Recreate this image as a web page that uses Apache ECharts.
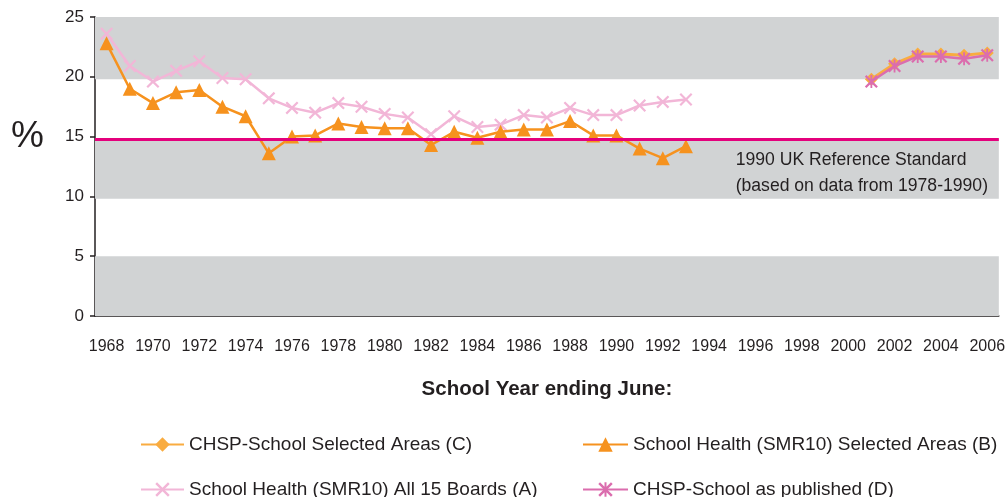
<!DOCTYPE html>
<html>
<head>
<meta charset="utf-8">
<script src="https://cdn.jsdelivr.net/npm/echarts@6/dist/echarts.min.js"></script>
<style>
  html, body { margin: 0; padding: 0; background: #fff; }
  #chart { width: 1008px; height: 497px; }
</style>
</head>
<body>
<div id="chart"></div>
<script>
// years on the x axis
const years = [];
for (let y = 1968; y <= 2006; y++) years.push(String(y));

// School Health (SMR10) All 15 Boards (A), 1968-1993
const allBoardsA = [23.6, 20.9, 19.6, 20.5, 21.3, 19.9, 19.8, 18.2, 17.4, 17.0, 17.8, 17.5, 16.9,
  16.6, 15.2, 16.7, 15.8, 16.0, 16.8, 16.6, 17.4, 16.8, 16.8, 17.6, 17.9, 18.1];
// School Health (SMR10) Selected Areas (B), 1968-1993
const selectedB = [22.8, 19.0, 17.8, 18.7, 18.9, 17.5, 16.7, 13.6, 15.0, 15.1, 16.1, 15.8, 15.7,
  15.7, 14.3, 15.4, 14.9, 15.4, 15.6, 15.6, 16.3, 15.1, 15.1, 14.0, 13.2, 14.2];
// CHSP-School Selected Areas (C), 2001-2006
const chspSelectedC = [19.8, 21.1, 21.9, 21.9, 21.8, 22.0];
// CHSP-School as published (D), 2001-2006
const chspPublishedD = [19.6, 20.9, 21.7, 21.7, 21.5, 21.8];

const refStandard = 14.8;
const greyBands = [[0, 5], [9.8, 14.8], [19.8, 25]];
const yTicks = [0, 5, 10, 15, 20, 25];

const nameA = 'School Health (SMR10) All 15 Boards (A)';
const nameB = 'School Health (SMR10) Selected Areas (B)';
const nameC = 'CHSP-School Selected Areas (C)';
const nameD = 'CHSP-School as published (D)';

function place(values, startYear) {
  return years.map((y) => {
    const i = Number(y) - startYear;
    return i >= 0 && i < values.length ? values[i] : null;
  });
}

const crossPath = 'path://M0,1.2L1.2,0L5,3.8L8.8,0L10,1.2L6.2,5L10,8.8L8.8,10L5,6.2L1.2,10L0,8.8L3.8,5Z';
const starPath = crossPath.replace('Z', 'ZM4.3,0L5.7,0L5.7,10L4.3,10Z');

const textColor = '#231F20';
const font = 'Liberation Sans, Arial, sans-serif';

function legendAt(left, top, width, name) {
  return {
    left: left, top: top, padding: 0,
    itemWidth: width, itemHeight: 18,
    textStyle: { fontSize: 19, color: textColor, fontFamily: font },
    data: [name]
  };
}

const chart = echarts.init(document.getElementById('chart'));

chart.setOption({
  animation: false,
  textStyle: { fontFamily: font },
  grid: { left: 95, right: 6, top: 17, bottom: 181, containLabel: false },
  xAxis: {
    type: 'category',
    data: years,
    boundaryGap: true,
    name: 'School Year ending June:',
    nameLocation: 'middle',
    nameGap: 63,
    nameTextStyle: { fontSize: 20.5, fontWeight: 'bold', color: textColor, fontFamily: font },
    axisLine: { lineStyle: { color: '#231F20', width: 1.5 } },
    axisTick: { interval: 0, length: 5, lineStyle: { color: '#231F20', width: 1.5 } },
    axisLabel: { interval: 1, margin: 23, fontSize: 16, color: textColor, fontFamily: font },
    splitLine: { show: false }
  },
  yAxis: {
    type: 'value',
    min: 0,
    max: 25,
    interval: 5,
    axisLine: { show: true, lineStyle: { color: '#231F20', width: 1.5 } },
    axisTick: { show: true, length: 5, lineStyle: { color: '#231F20', width: 1.5 } },
    axisLabel: { margin: 11, fontSize: 17, color: textColor, fontFamily: font,
      formatter: (v) => (yTicks.includes(v) ? String(v) : '') },
    splitLine: { show: false }
  },
  legend: [
    legendAt(140, 435, 43, nameC),
    legendAt(140, 480, 43, nameA),
    legendAt(582, 435, 45, nameB),
    legendAt(582, 480, 45, nameD)
  ],
  graphic: [
    {
      type: 'text', left: 11, top: 118, z: 100,
      style: { text: '%', fontSize: 37, fill: textColor, fontFamily: font }
    },
    {
      type: 'text', right: 20, top: 147, z: 100,
      style: {
        text: '1990 UK Reference Standard\n(based on data from 1978-1990)',
        fontSize: 17.6, lineHeight: 26, align: 'right', fill: textColor, fontFamily: font
      }
    }
  ],
  series: [
    {
      name: 'bands',
      type: 'line',
      data: [],
      silent: true,
      z: 0,
      markArea: {
        silent: true,
        itemStyle: { color: '#D1D3D4' },
        data: greyBands.map((b) => [{ yAxis: b[0] }, { yAxis: b[1] }])
      },
      markLine: {
        silent: true,
        symbol: 'none',
        label: { show: false },
        lineStyle: { color: '#E4007C', width: 3, type: 'solid' },
        data: [{ yAxis: refStandard }]
      }
    },
    {
      name: nameA,
      type: 'line',
      data: place(allBoardsA, 1968),
      color: '#F2B6D7',
      lineStyle: { width: 2.5 },
      symbol: crossPath,
      symbolSize: 13,
      z: 3
    },
    {
      name: nameB,
      type: 'line',
      data: place(selectedB, 1968),
      color: '#F6921E',
      lineStyle: { width: 2.5 },
      symbol: 'triangle',
      symbolSize: 14,
      z: 4
    },
    {
      name: nameC,
      type: 'line',
      data: place(chspSelectedC, 2001),
      color: '#F9AC40',
      lineStyle: { width: 3 },
      symbol: 'diamond',
      symbolSize: 13,
      z: 3
    },
    {
      name: nameD,
      type: 'line',
      data: place(chspPublishedD, 2001),
      color: '#DB6DAE',
      lineStyle: { width: 2.5 },
      symbol: starPath,
      symbolSize: 13,
      z: 4
    }
  ]
});
</script>
</body>
</html>
